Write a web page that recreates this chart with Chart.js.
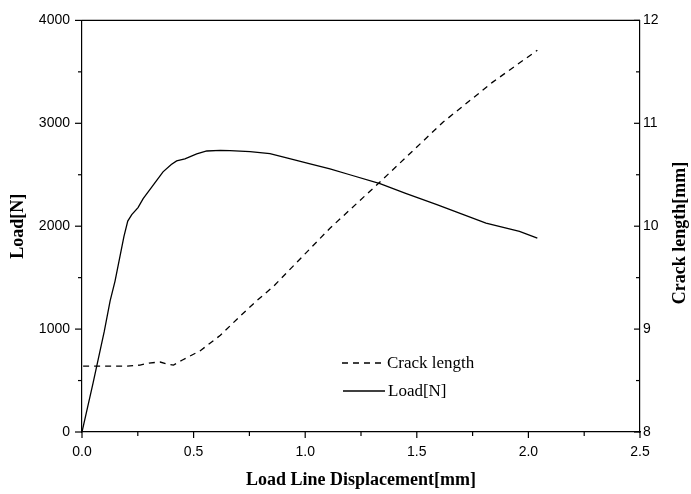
<!DOCTYPE html>
<html><head><meta charset="utf-8">
<script src="https://cdn.jsdelivr.net/npm/chart.js@4.4.1/dist/chart.umd.min.js"></script>
<style>html,body{margin:0;padding:0;background:#fff}</style>
</head><body>
<canvas id="c" width="691" height="494"></canvas>
<script>
// ---- data ----
const loadDisp = [0, 0.05, 0.10, 0.126, 0.148, 0.188, 0.205, 0.223, 0.251, 0.274, 0.314, 0.363, 0.40, 0.424, 0.461, 0.514, 0.559, 0.62, 0.663, 0.753, 0.842, 0.917, 1.022, 1.111, 1.2, 1.335, 1.45, 1.59, 1.7, 1.81, 1.96, 2.04];
const loadN    = [0, 480, 980, 1274, 1467, 1901, 2050, 2113, 2181, 2268, 2384, 2528, 2600, 2634, 2654, 2702, 2731, 2737, 2735, 2725, 2705, 2665, 2606, 2557, 2500, 2413, 2320, 2210, 2120, 2030, 1950, 1885];
const crackDisp = [0.005, 0.10, 0.20, 0.26, 0.30, 0.35, 0.38, 0.41, 0.45, 0.53, 0.62, 0.72, 0.78, 0.86, 1.066, 1.111, 1.335, 1.617, 1.84, 2.04];
const crackMm   = [8.64, 8.64, 8.64, 8.65, 8.67, 8.68, 8.66, 8.65, 8.70, 8.79, 8.94, 9.15, 9.27, 9.42, 9.88, 9.98, 10.43, 11.01, 11.40, 11.71];
const xMajor = [0, 0.5, 1.0, 1.5, 2.0, 2.5];
const xMinor = [0.25, 0.75, 1.25, 1.75, 2.25];
const yMajor = [0, 1000, 2000, 3000, 4000];
const yMinor = [500, 1500, 2500, 3500];
const y2Major = [8, 9, 10, 11, 12];
const y2Minor = [8.5, 9.5, 10.5, 11.5];
const seriesNames = ['Crack length', 'Load[N]'];
const axisTitles = {x: 'Load Line Displacement[mm]', y: 'Load[N]', y2: 'Crack length[mm]'};

const toXY = (xs, ys) => xs.map((x, i) => ({x, y: ys[i]}));
const tickFont = {family: 'Liberation Sans, Arial, sans-serif', size: 14};
const titleFont = {family: 'Liberation Serif, Times New Roman, serif', size: 18, weight: 'bold'};

const extras = {
  id: 'extras',
  afterDraw(chart) {
    const ctx = chart.ctx;
    const {left, right, top, bottom} = chart.chartArea;
    ctx.save();
    ctx.strokeStyle = '#000';
    ctx.lineWidth = 1.2;
    ctx.beginPath(); ctx.moveTo(left, top); ctx.lineTo(right, top); ctx.stroke();
    const xs = chart.scales.x, ys = chart.scales.y, y2 = chart.scales.y2;
    const seg = (a, b, c, d) => { ctx.beginPath(); ctx.moveTo(a, b); ctx.lineTo(c, d); ctx.stroke(); };
    xMajor.forEach(v => { const p = xs.getPixelForValue(v); seg(p, bottom, p, bottom + 6); });
    xMinor.forEach(v => { const p = xs.getPixelForValue(v); seg(p, bottom, p, bottom + 4); });
    yMajor.forEach(v => { const p = ys.getPixelForValue(v); seg(left - 7, p, left, p); });
    yMinor.forEach(v => { const p = ys.getPixelForValue(v); seg(left - 4, p, left, p); });
    y2Major.forEach(v => { const p = y2.getPixelForValue(v); seg(right - 6, p, right, p); });
    y2Minor.forEach(v => { const p = y2.getPixelForValue(v); seg(right - 4, p, right, p); });
    // right axis title, reading bottom to top
    ctx.fillStyle = '#000';
    ctx.font = 'bold 18px "Liberation Serif", "Times New Roman", serif';
    ctx.textAlign = 'center'; ctx.textBaseline = 'middle';
    ctx.save(); ctx.translate(680, 233); ctx.rotate(-Math.PI / 2);
    ctx.fillText(axisTitles.y2, 0, 0); ctx.restore();
    // legend
    ctx.font = '17px "Liberation Serif", "Times New Roman", serif';
    ctx.textAlign = 'left';
    ctx.lineWidth = 1.3;
    ctx.setLineDash([6, 5]);
    seg(342, 363, 385, 363);
    ctx.setLineDash([]);
    seg(343, 391, 385, 391);
    ctx.fillText(seriesNames[0], 387, 364);
    ctx.fillText(seriesNames[1], 388, 392);
    ctx.restore();
  }
};

new Chart(document.getElementById('c'), {
  type: 'line',
  data: {
    datasets: [
      {label: seriesNames[0], data: toXY(crackDisp, crackMm), yAxisID: 'y2', borderColor: '#000', borderWidth: 1.3, borderDash: [6, 5], pointRadius: 0, tension: 0, fill: false},
      {label: seriesNames[1], data: toXY(loadDisp, loadN), yAxisID: 'y', borderColor: '#000', borderWidth: 1.3, pointRadius: 0, tension: 0, fill: false}
    ]
  },
  options: {
    responsive: false,
    devicePixelRatio: 1,
    animation: false,
    layout: {padding: {top: 17, left: 0, right: 0, bottom: 0}},
    plugins: {legend: {display: false}, tooltip: {enabled: false}},
    scales: {
      x: {
        type: 'linear', position: 'bottom', min: 0, max: 2.5,
        afterBuildTicks: s => { s.ticks = xMajor.map(v => ({value: v})); },
        afterFit: s => { s.height = 62; },
        ticks: {color: '#000', font: tickFont, padding: 12, maxRotation: 0, callback: v => Number(v).toFixed(1)},
        grid: {display: true, drawOnChartArea: false, drawTicks: false},
        border: {display: true, color: '#000', width: 1.2},
        title: {display: true, text: axisTitles.x, color: '#000', font: titleFont, padding: {top: 0, bottom: 3}}
      },
      y: {
        type: 'linear', position: 'left', min: 0, max: 4000,
        afterBuildTicks: s => { s.ticks = yMajor.map(v => ({value: v})); },
        afterFit: s => { s.width = 82; },
        ticks: {color: '#000', font: tickFont, padding: 12, callback: v => String(v)},
        grid: {display: true, drawOnChartArea: false, drawTicks: false},
        border: {display: true, color: '#000', width: 1.2},
        title: {display: true, text: axisTitles.y, color: '#000', font: titleFont, padding: {top: 8, bottom: 0}}
      },
      y2: {
        type: 'linear', position: 'right', min: 8, max: 12,
        afterBuildTicks: s => { s.ticks = y2Major.map(v => ({value: v})); },
        afterFit: s => { s.width = 51; },
        ticks: {color: '#000', font: tickFont, padding: 3, callback: v => String(v)},
        grid: {display: true, drawOnChartArea: false, drawTicks: false},
        border: {display: true, color: '#000', width: 1.2}
      }
    }
  },
  plugins: [extras]
});
</script>
</body></html>
